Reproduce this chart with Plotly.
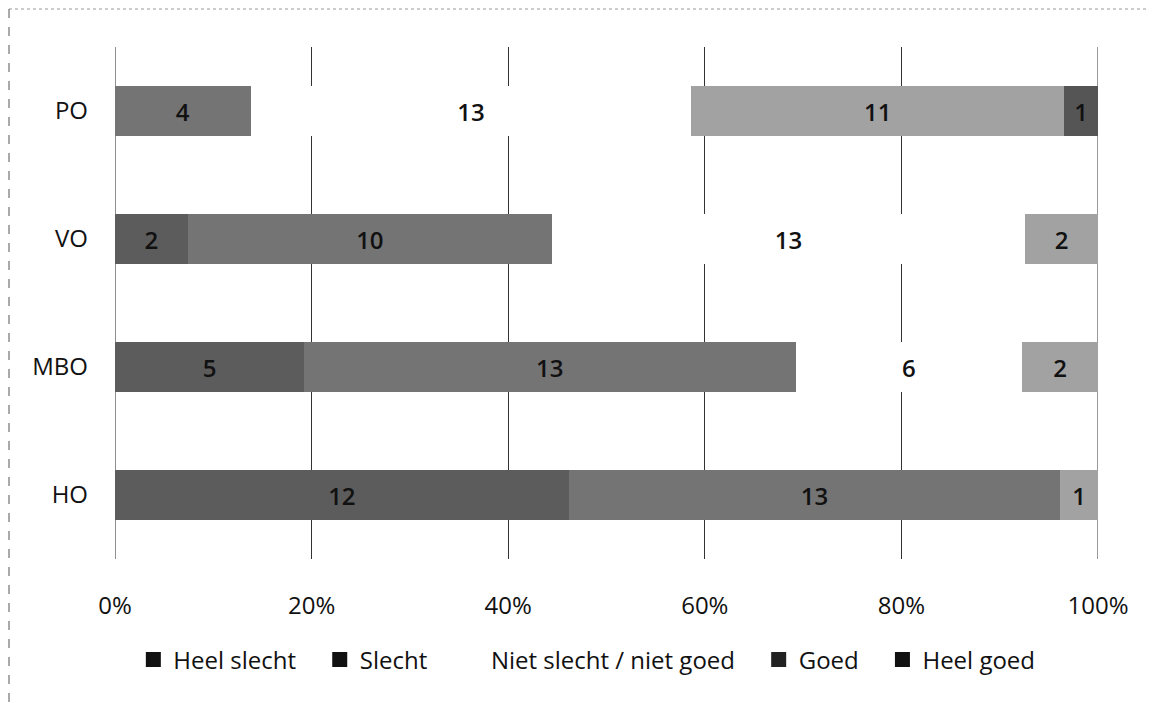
import plotly.graph_objects as go

categories = ["PO", "VO", "MBO", "HO"]
series_names = ["Heel slecht", "Slecht", "Niet slecht / niet goed", "Goed", "Heel goed"]
heel_slecht = [0, 2, 5, 12]
slecht = [4, 10, 13, 13]
niet = [13, 13, 6, 0]
goed = [11, 2, 2, 1]
heel_goed = [1, 0, 0, 0]
tick_vals = [0, 20, 40, 60, 80, 100]
tick_text = ["0%", "20%", "40%", "60%", "80%", "100%"]

series_values = [heel_slecht, slecht, niet, goed, heel_goed]
colors = ["#5c5c5c", "#747474", "#ffffff", "#a2a2a2", "#555555"]
legend_colors = ["#111111", "#111111", "#ffffff", "#222222", "#111111"]

FONT = "Open Sans"
NBSP = "\u00a0"

fig = go.Figure()
for name, vals, col in zip(series_names, series_values, colors):
    fig.add_trace(go.Bar(
        y=categories, x=vals, name=name, orientation="h",
        marker=dict(color=col, line=dict(width=0)),
        text=[str(v) if v else "" for v in vals],
        textposition="inside", insidetextanchor="middle",
        constraintext="none",
        textfont=dict(family=FONT, size=24, color="#111111", weight=600),
        width=0.39, showlegend=False,
        hoverinfo="x+y+name",
    ))

for i, (name, lc) in enumerate(zip(series_names, legend_colors)):
    pad = NBSP * 3 if i < len(series_names) - 1 else ""
    fig.add_trace(go.Scatter(
        x=[None], y=[None], mode="markers", name=name + pad,
        marker=dict(symbol="square", size=15, color=lc),
        showlegend=True, hoverinfo="skip",
    ))

W, H = 1157, 703
L, R, T, B = 107, 67, 39, 152
pw, ph = W - L - R, H - T - B

def px_x(p):
    return (p - L) / pw

def px_y(p):
    return (H - B - p) / ph

fig.update_layout(
    width=W, height=H,
    barmode="stack", barnorm="percent",
    margin=dict(l=L, r=R, t=T, b=B),
    paper_bgcolor="white", plot_bgcolor="white",
    font=dict(family=FONT, size=22, color="#111111"),
    xaxis=dict(range=[0, 100], tickvals=tick_vals, ticktext=tick_text,
               showgrid=True, gridcolor="#333333", gridwidth=1,
               zeroline=False, showline=False, ticks="",
               tickfont=dict(family=FONT, size=24, color="#111111"),
               ticklabelstandoff=30, fixedrange=True),
    yaxis=dict(categoryorder="array", categoryarray=categories[::-1],
               showgrid=False, zeroline=False, showline=False, ticks="",
               tickfont=dict(family=FONT, size=24, color="#111111"),
               ticklabelstandoff=26),
    legend=dict(orientation="h", x=0.48, xanchor="center", y=-0.197, yanchor="middle",
                font=dict(family=FONT, size=24, color="#111111"),
                traceorder="normal", itemwidth=30),
    showlegend=True,
    shapes=[
        dict(type="line", xref="paper", yref="paper", layer="above",
             x0=px_x(1), x1=px_x(1145), y0=px_y(1), y1=px_y(1),
             line=dict(color="#999999", width=1, dash="dot")),
        dict(type="line", xref="paper", yref="paper", layer="above",
             x0=px_x(1), x1=px_x(1), y0=px_y(1), y1=px_y(702),
             line=dict(color="#555555", width=1, dash="dash")),
        dict(type="line", xref="x", yref="paper", layer="below",
             x0=0, x1=0, y0=0, y1=1,
             line=dict(color="#222222", width=1)),
        dict(type="line", xref="x", yref="paper", layer="below",
             x0=100, x1=100, y0=0, y1=1,
             line=dict(color="#333333", width=1)),
    ],
)

fig.write_html("out.html")
